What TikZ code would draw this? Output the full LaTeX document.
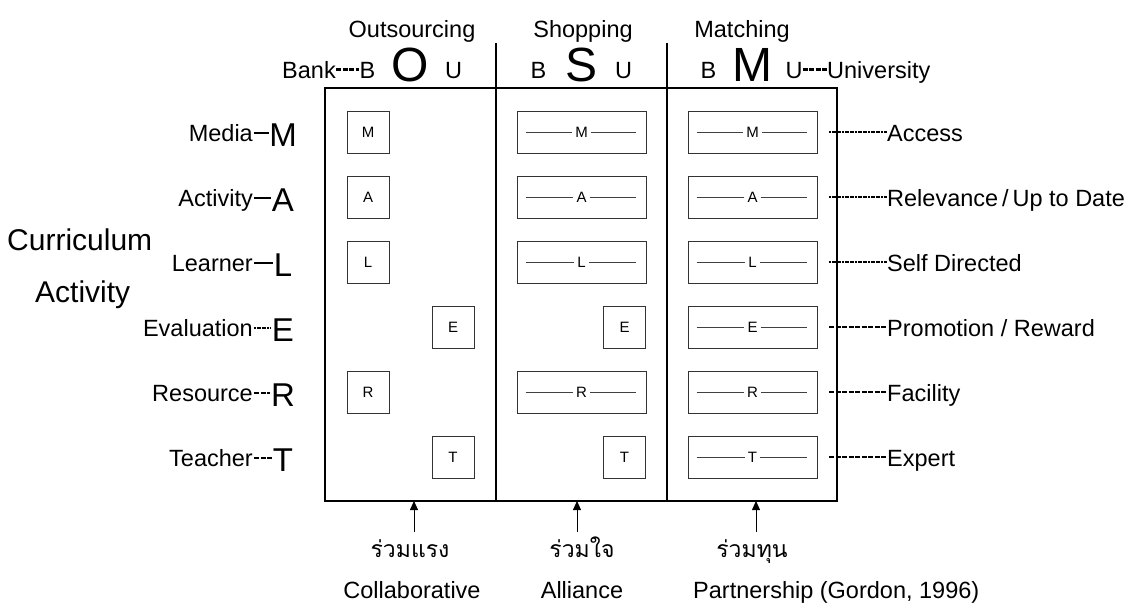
\documentclass[tikz,border=0pt]{standalone}
\usepackage{fontspec}
\setmainfont{Liberation Sans}
\newfontfamily\thaifont[Script=Thai]{Loma}
\usetikzlibrary{arrows.meta}
\begin{document}
\begin{tikzpicture}[x=1pt,y=-1pt,
  txt/.style={font=\fontsize{23.5}{26}\selectfont, inner sep=0pt, text height=17pt, text depth=0pt},
  rowtxt/.style={txt, inner sep=1pt},
  bigl/.style={font=\fontsize{33}{36}\selectfont, inner sep=0.5pt, text height=23.6pt, text depth=0pt},
  hugel/.style={font=\fontsize{48}{50}\selectfont, inner sep=0pt, text height=34pt, text depth=0pt},
  curr/.style={font=\fontsize{30}{32}\selectfont, inner sep=0pt},
  thai/.style={font=\thaifont\fontsize{23}{26}\selectfont, inner sep=0pt},
  frame/.style={line width=2.5pt},
  sq/.style={draw=black!80, line width=0.8pt, minimum width=42pt, minimum height=42pt, inner sep=0pt, font=\fontsize{15}{16}\selectfont},
  widebox/.style={sq, minimum width=129pt},
  inl/.style={font=\fontsize{15}{16}\selectfont, inner sep=3pt},
  inline/.style={draw=black!75, line width=0.6pt},
  conn/.style={line width=2.4pt},
  dotconn/.style={conn, dash pattern=on 2pt off 0.6pt},
  dashconn/.style={conn, dash pattern=on 5pt off 1.5pt},
  arr/.style={line width=0.8pt, -{Triangle[length=9pt,width=8pt]}}
]
\useasboundingbox (0,0) rectangle (1135,603);

% main frame and dividers
\draw[frame] (325,88) rectangle (837,501);
\draw[frame] (496,43) -- (496,501);
\draw[frame] (667,43) -- (667,501);

% headers
\node[txt, anchor=base] (hO) at (412,37) {Outsourcing};
\node[txt, anchor=base] (hS) at (583,37) {Shopping};
\node[txt, anchor=base] (hM) at (742,37) {Matching};

\node[txt] (bO) at (367.5,69.5) {B};
\node[hugel] (lO) at (410,64) {O};
\node[txt] (uO) at (453.5,69.5) {U};
\node[txt] (bS) at (538.5,69.5) {B};
\node[hugel] (lS) at (582,64) {S};
\node[txt] (uS) at (623.5,69.5) {U};
\node[txt] (bM) at (708.5,69.5) {B};
\node[hugel] (lM) at (752.5,64) {M};
\node[txt] (uM) at (794,69.5) {U};

\node[txt, anchor=east] (bank) at (336,69.5) {Bank};
\node[txt, anchor=west] (univ) at (827,69.5) {University};
\draw[dashconn] (bank.east) -- (bO.west);
\draw[dashconn] (uM.east) -- (univ.west);

% left side
\node[curr, anchor=base west] (cur) at (7,250) {Curriculum};
\node[curr, anchor=base west] (act) at (35,302) {Activity};

\foreach \t/\l/\y/\s [count=\i] in {Media/M/132/conn, Activity/A/197/conn, Learner/L/262/conn, Evaluation/E/327/dotconn, Resource/R/392/dashconn, Teacher/T/457/dashconn}{
  \node[rowtxt, anchor=east] (lt\i) at (254,\y+1) {\t};
  \node[bigl] (lb\i) at (283,\y+3) {\l};
  \draw[\s] (lt\i.east) -- (lt\i.east -| lb\i.west);
}

% right side
\foreach \t/\y/\s [count=\i] in {{Access}/132/dotconn, {Relevance\,/\,Up to Date}/197/dotconn, {Self Directed}/262/dotconn, {Promotion / Reward}/327/dashconn, {Facility}/392/dashconn, {Expert}/457/dashconn}{
  \coordinate (rs\i) at (829,\y);
  \node[rowtxt, anchor=west, inner sep=0pt] (rl\i) at (887,\y+1) {\t};
  \draw[\s] (rs\i) -- (rs\i -| rl\i.west);
}

% column O
\node[sq] (oM) at (368,132) {M};
\node[sq] (oA) at (368,197) {A};
\node[sq] (oL) at (368,262) {L};
\node[sq] (oE) at (453,327) {E};
\node[sq] (oR) at (368,392) {R};
\node[sq] (oT) at (453,457) {T};

% column S
\foreach \l/\y in {M/132, A/197, L/262, R/392}{
  \node[widebox] (s\l) at (581.5,\y) {};
  \node[inl] (s\l t) at (581.5,\y) {\l};
  \draw[inline] ([xshift=9pt]s\l.west) -- (s\l t.west);
  \draw[inline] (s\l t.east) -- ([xshift=-10pt]s\l.east);
}
\node[sq] (sE) at (624.5,327) {E};
\node[sq] (sT) at (624.5,457) {T};

% column M
\foreach \l/\y in {M/132, A/197, L/262, E/327, R/392, T/457}{
  \node[widebox] (m\l) at (752.5,\y) {};
  \node[inl] (m\l t) at (752.5,\y) {\l};
  \draw[inline] ([xshift=9pt]m\l.west) -- (m\l t.west);
  \draw[inline] (m\l t.east) -- ([xshift=-10pt]m\l.east);
}

% bottom arrows and labels
\coordinate (a1t) at (414,501); \coordinate (a1b) at (414,532);
\coordinate (a2t) at (577,501); \coordinate (a2b) at (577,532);
\coordinate (a3t) at (756,501); \coordinate (a3b) at (756,532);
\draw[arr] (a1b) -- (a1t);
\draw[arr] (a2b) -- (a2t);
\draw[arr] (a3b) -- (a3t);

\node[thai, anchor=base] (th1) at (410,557) {ร่วมแรง};
\node[thai, anchor=base] (th2) at (582,557) {ร่วมใจ};
\node[thai, anchor=base] (th3) at (752,557) {ร่วมทุน};

\node[txt, anchor=base] (en1) at (412,598) {Collaborative};
\node[txt, anchor=base] (en2) at (582,598) {Alliance};
\node[txt, anchor=base west] (en3) at (693,598) {Partnership (Gordon, 1996)};
\end{tikzpicture}
\end{document}
